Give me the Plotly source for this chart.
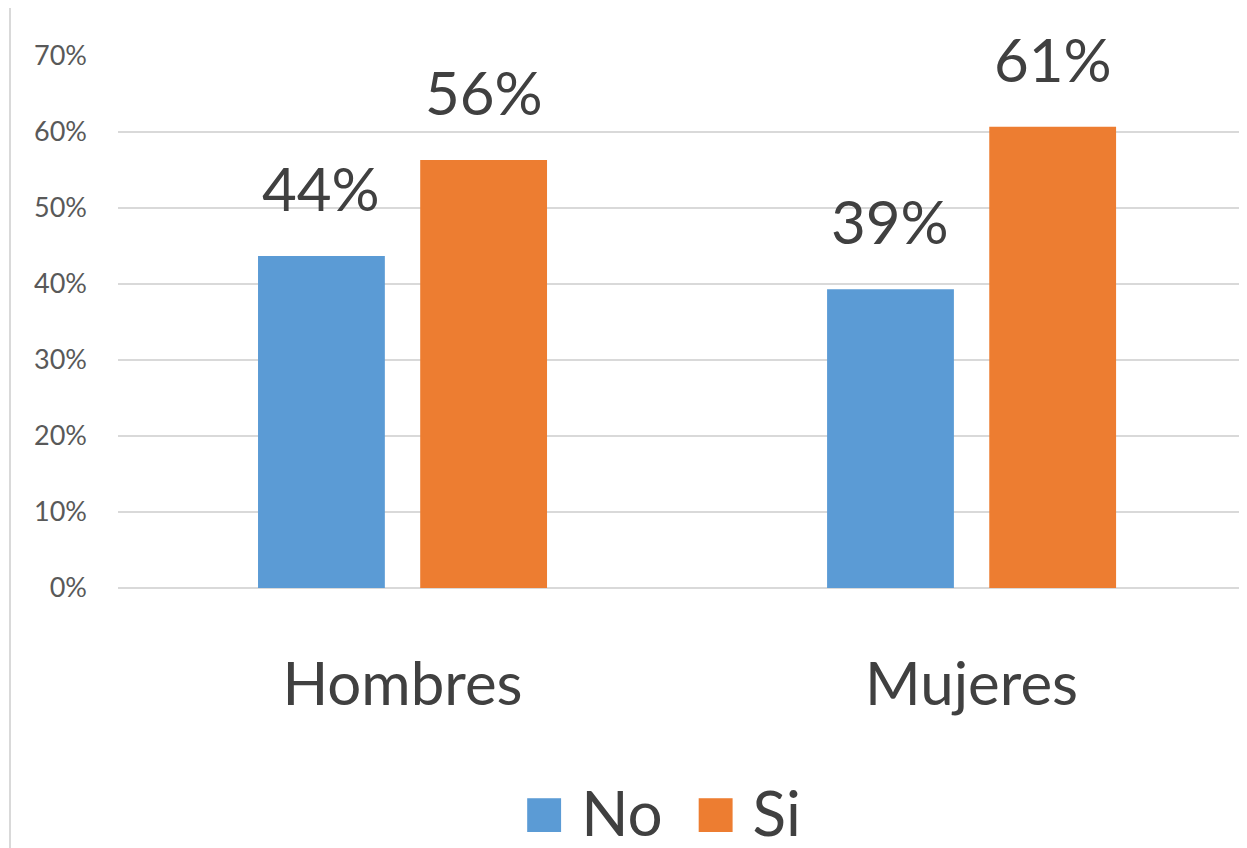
import plotly.graph_objects as go

categories = ["Hombres", "Mujeres"]
series_names = ["No", "Si"]
no_values = [0.437, 0.393]
si_values = [0.563, 0.607]
y_ticks = [0, 0.1, 0.2, 0.3, 0.4, 0.5, 0.6, 0.7]
y_tick_labels = ["0%", "10%", "20%", "30%", "40%", "50%", "60%", "70%"]

colors = {"No": "#5B9BD5", "Si": "#ED7D31"}
FONT = "Lato"
TEXT = "#404040"

# page body has an 8px margin, so the figure is sized to fill the rest of the window
BARGAP = 0.43
W, H = 1239, 840
L, R, T, B = 110, 0, 48, 260
XR = [-0.5, 1.484]
px_per_cat = (W - L - R) / (XR[1] - XR[0])
bar_offset_px = (1 - BARGAP) / 4 * px_per_cat

fig = go.Figure()
series = [no_values, si_values]
for i, (name, vals) in enumerate(zip(series_names, series)):
    fig.add_trace(go.Bar(
        name=name, x=categories, y=vals,
        marker=dict(color=colors[name], line=dict(width=0)),
        showlegend=False,
    ))
    sign = -1 if i == 0 else 1
    for c, v in zip(categories, vals):
        fig.add_annotation(x=c, y=v, xref="x", yref="y", text=f"{round(v*100)}%",
                           showarrow=False, yanchor="bottom", xanchor="center",
                           xshift=sign * bar_offset_px, yshift=30,
                           font=dict(family=FONT, size=60, color=TEXT))

legend_text = "&nbsp;&nbsp;".join(
    f"<span style='color:{colors[n]};font-size:70px'>■</span>&nbsp;{n}" for n in series_names)
fig.add_annotation(xref="paper", yref="paper", x=0.482, y=-0.333,
                   xanchor="center", yanchor="top", showarrow=False,
                   text=legend_text, font=dict(family=FONT, size=62, color=TEXT))

fig.update_layout(
    width=W, height=H,
    margin=dict(l=L, r=R, t=T, b=B, autoexpand=False),
    paper_bgcolor="white", plot_bgcolor="white",
    barmode="group", bargap=BARGAP, bargroupgap=0.218,
    showlegend=False,
    font=dict(family=FONT),
)
fig.update_xaxes(range=XR, showgrid=False, showline=False, zeroline=False,
                 ticks="", tickfont=dict(family=FONT, size=60, color=TEXT),
                 ticklabelstandoff=56, automargin=False)
fig.update_yaxes(range=[0, 0.7], tickvals=y_ticks, ticktext=y_tick_labels,
                 showgrid=True, gridcolor="#D9D9D9", gridwidth=2,
                 zeroline=True, zerolinecolor="#D9D9D9", zerolinewidth=2,
                 showline=False, ticks="",
                 tickfont=dict(family=FONT, size=27, color="#595959"),
                 ticklabelstandoff=30, automargin=False)
fig.add_shape(type="line", xref="paper", yref="paper",
              x0=(2 - L) / (W - L - R), x1=(2 - L) / (W - L - R), y0=-0.6, y1=1.2,
              line=dict(color="#D9D9D9", width=2))

fig.write_html("out.html")
